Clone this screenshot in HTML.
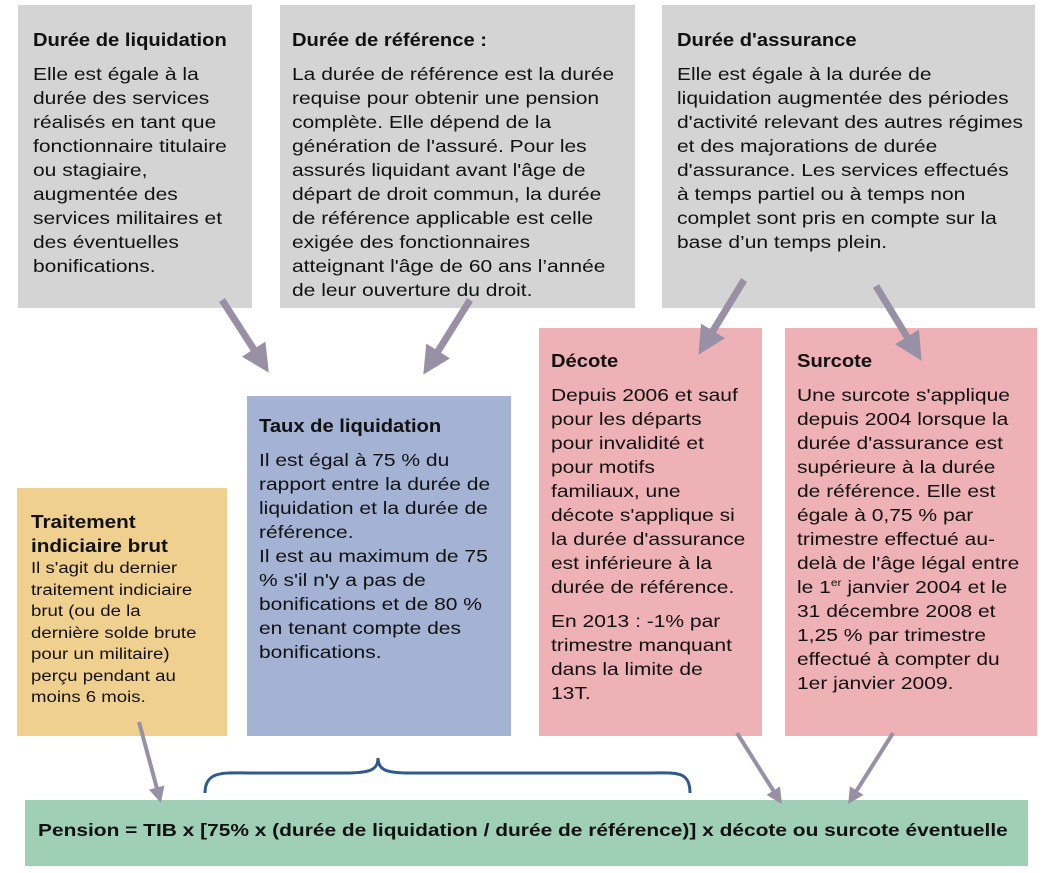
<!DOCTYPE html>
<html><head><meta charset="utf-8"><style>
body{margin:0;width:1044px;height:873px;background:#fff;position:relative;overflow:hidden;font-family:"Liberation Sans",Arial,sans-serif;color:#111}
.b{position:absolute;box-sizing:border-box}
.g{background:#d4d4d4}
.t{font-weight:bold;font-size:18px;line-height:24px;margin-bottom:10px;transform:scaleX(1.12);transform-origin:left;white-space:nowrap}
.p{font-size:17.5px;line-height:24px;white-space:nowrap;transform:scaleX(1.2);transform-origin:left}
</style></head><body>
<div class="b g" style="left:18px;top:5px;width:234px;height:303px;padding:23px 0 0 15px">
<div class="t">Durée de liquidation</div>
<div class="p">Elle est égale à la<br>durée des services<br>réalisés en tant que<br>fonctionnaire titulaire<br>ou stagiaire,<br>augmentée des<br>services militaires et<br>des éventuelles<br>bonifications.</div></div>
<div class="b g" style="left:280px;top:5px;width:355px;height:303px;padding:23px 0 0 12px">
<div class="t">Durée de référence :</div>
<div class="p">La durée de référence est la durée<br>requise pour obtenir une pension<br>complète. Elle dépend de la<br>génération de l'assuré. Pour les<br>assurés liquidant avant l'âge de<br>départ de droit commun, la durée<br>de référence applicable est celle<br>exigée des fonctionnaires<br>atteignant l'âge de 60 ans l’année<br>de leur ouverture du droit.</div></div>
<div class="b g" style="left:662px;top:5px;width:373px;height:303px;padding:23px 0 0 15px">
<div class="t">Durée d'assurance</div>
<div class="p">Elle est égale à la durée de<br>liquidation augmentée des périodes<br>d'activité relevant des autres régimes<br>et des majorations de durée<br>d'assurance. Les services effectués<br>à temps partiel ou à temps non<br>complet sont pris en compte sur la<br>base d’un temps plein.</div></div>
<div class="b" style="left:539px;top:328px;width:223px;height:408px;background:#eeb1b5;padding:21px 0 0 12px">
<div class="t">Décote</div>
<div class="p">Depuis 2006 et sauf<br>pour les départs<br>pour invalidité et<br>pour motifs<br>familiaux, une<br>décote s'applique si<br>la durée d'assurance<br>est inférieure à la<br>durée de référence.</div>
<div class="p" style="margin-top:10px">En 2013 : -1% par<br>trimestre manquant<br>dans la limite de<br>13T.</div></div>
<div class="b" style="left:785px;top:328px;width:252px;height:408px;background:#eeb1b5;padding:21px 0 0 12px">
<div class="t">Surcote</div>
<div class="p">Une surcote s'applique<br>depuis 2004 lorsque la<br>durée d'assurance est<br>supérieure à la durée<br>de référence. Elle est<br>égale à 0,75 % par<br>trimestre effectué au-<br>delà de l'âge légal entre<br>le 1<sup style="font-size:10px;line-height:0">er</sup> janvier 2004 et le<br>31 décembre 2008 et<br>1,25 % par trimestre<br>effectué à compter du<br>1er janvier 2009.</div></div>
<div class="b" style="left:247px;top:396px;width:264px;height:340px;background:#a4b2d4;padding:18px 0 0 12px">
<div class="t">Taux de liquidation</div>
<div class="p">Il est égal à 75 % du<br>rapport entre la durée de<br>liquidation et la durée de<br>référence.<br>Il est au maximum de 75<br>% s'il n'y a pas de<br>bonifications et de 80 %<br>en tenant compte des<br>bonifications.</div></div>
<div class="b" style="left:17px;top:488px;width:210px;height:248px;background:#f0d08e;padding:22px 0 0 14px">
<div class="t" style="margin:0;transform:scaleX(1.15)">Traitement<br>indiciaire brut</div>
<div class="p" style="font-size:15.5px;line-height:21.5px;transform:scaleX(1.2)">Il s'agit du dernier<br>traitement indiciaire<br>brut (ou de la<br>dernière solde brute<br>pour un militaire)<br>perçu pendant au<br>moins 6 mois.</div></div>
<div class="b" style="left:25px;top:800px;width:1003px;height:66px;background:#9fd0b6;padding:20px 0 0 13px">
<div style="font-weight:bold;font-size:17.5px;white-space:nowrap;transform:scaleX(1.195);transform-origin:left">Pension = TIB x [75% x (durée de liquidation / durée de référence)] x décote ou surcote éventuelle</div></div>
<svg class="b" style="left:0;top:0" width="1044" height="873">
<defs><marker id="a" markerWidth="4" markerHeight="4" refX="2.2" refY="2" orient="auto"><path d="M0,0 L4,2 L0,4 z" fill="#9890a5"/></marker></defs>
<g stroke="#9890a5" stroke-width="7" marker-end="url(#a)">
<line x1="222" y1="300" x2="262" y2="362"/>
<line x1="470" y1="300" x2="430" y2="364"/>
<line x1="744" y1="280" x2="705" y2="344"/>
<line x1="876" y1="286" x2="915" y2="350"/>
</g>
<g stroke="#9890a5" stroke-width="4" marker-end="url(#a)">
<line x1="139" y1="722" x2="159" y2="796"/>
<line x1="737" y1="733" x2="778" y2="798"/>
<line x1="893" y1="733" x2="852" y2="798"/>
</g>
<path d="M205,793 C205,770 225,773 250,773 L345,773 C370,773 378,770 378,758 C378,770 386,773 410,773 L650,773 C675,773 690,770 690,793" fill="none" stroke="#2e5a8c" stroke-width="3"/>
</svg>
</body></html>
